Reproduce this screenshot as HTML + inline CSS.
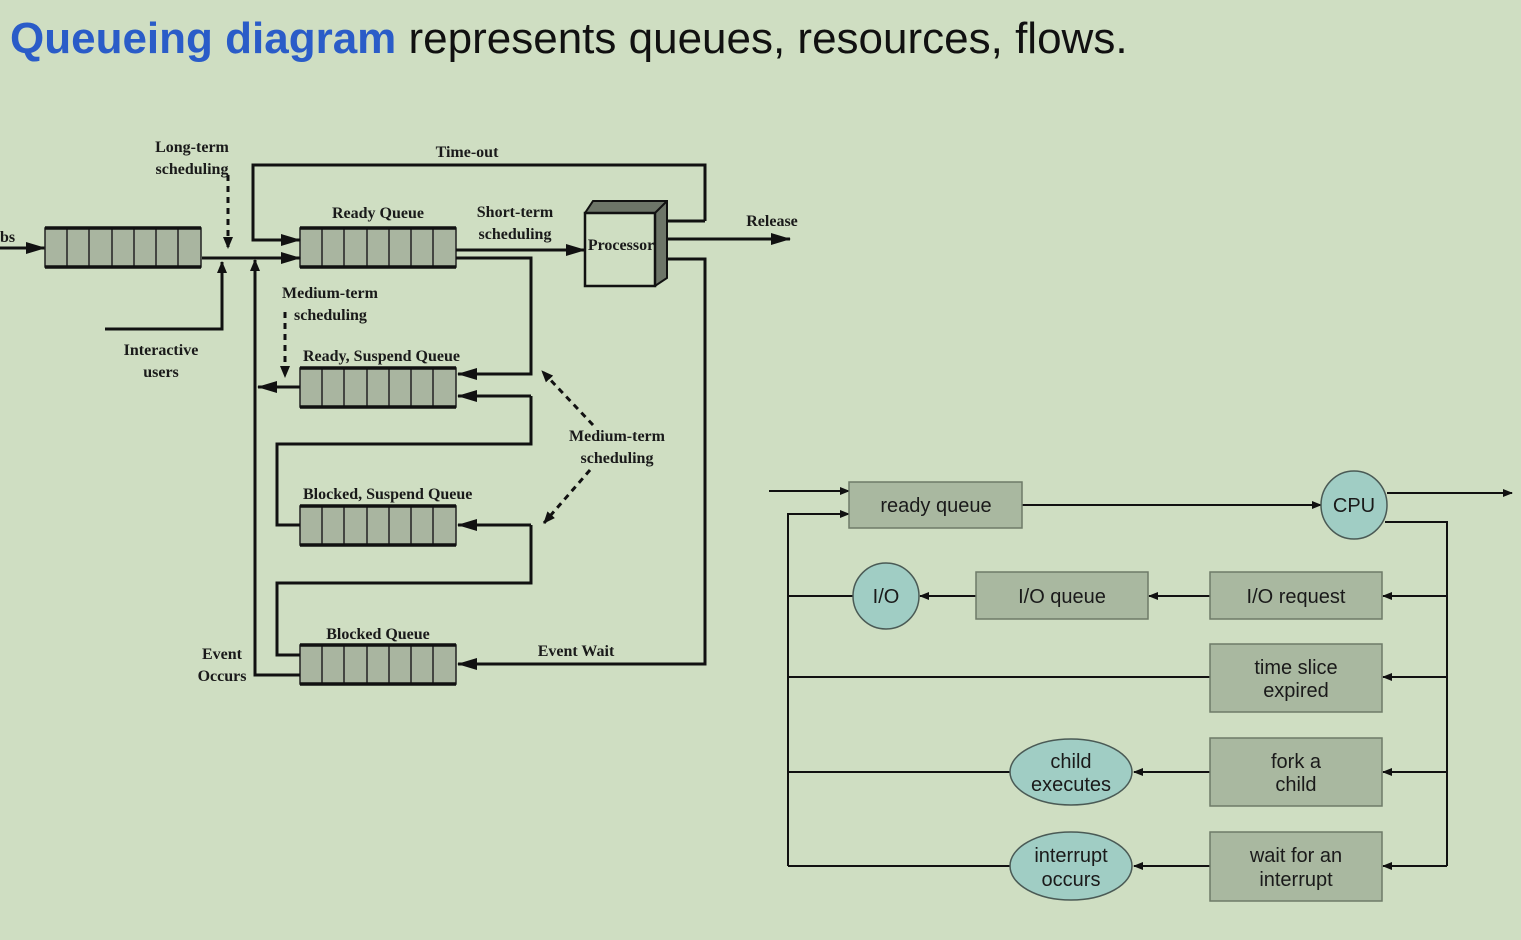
<!DOCTYPE html>
<html><head><meta charset="utf-8"><style>
html,body{margin:0;padding:0;background:#cfdec2;width:1521px;height:940px;overflow:hidden}
svg{position:absolute;left:0;top:0}
.s{font-family:"Liberation Serif",serif;font-weight:bold;font-size:16px;fill:#1a1a1a}
.r{font-family:"Liberation Sans",sans-serif;font-size:20px;fill:#1a1a1a}
</style></head><body>
<svg width="1521" height="940" viewBox="0 0 1521 940">
<defs>
<marker id="a" markerWidth="10" markerHeight="10" refX="9" refY="5" orient="auto" markerUnits="userSpaceOnUse"><path d="M0,1 L10,5 L0,9 z" fill="#111"/></marker>
<marker id="b" markerWidth="20" markerHeight="14" refX="19" refY="7" orient="auto" markerUnits="userSpaceOnUse"><path d="M0,1 L20,7 L0,13 z" fill="#111"/></marker>
<marker id="c" markerWidth="12" markerHeight="12" refX="11" refY="6" orient="auto" markerUnits="userSpaceOnUse"><path d="M0,1 L12,6 L0,11 z" fill="#111"/></marker>
<g id="q">
<rect x="0" y="0" width="156" height="39" fill="#a9b5a0" stroke="#222" stroke-width="1.5"/>
<path d="M22,0V39M44,0V39M67,0V39M89,0V39M111,0V39M133,0V39" stroke="#222" stroke-width="1.5"/>
<path d="M0,0H156M0,39H156" stroke="#111" stroke-width="3.5"/>
</g>
</defs>
<text x="10" y="53" font-family="Liberation Sans,sans-serif" font-size="44" fill="#111"><tspan fill="#2a5cc8" font-weight="bold">Queueing diagram</tspan> represents queues, resources, flows.</text>

<!-- left diagram -->
<g stroke="#111" stroke-width="3" fill="none">
<use href="#q" x="300" y="228"/>
<use href="#q" x="300" y="368"/>
<use href="#q" x="300" y="506"/>
<use href="#q" x="300" y="645"/>
<path d="M0,248H45" marker-end="url(#b)"/>
<path d="M202,258H300" marker-end="url(#b)"/>
<path d="M705,221H655M705,221V165H253V240H300" marker-end="url(#b)"/>
<path d="M228,175V248" stroke-dasharray="6,5" marker-end="url(#c)"/>
<path d="M105,329H222V262" marker-end="url(#c)"/>
<path d="M300,675H255V260" marker-end="url(#c)"/>
<path d="M300,387H258" marker-end="url(#b)"/>
<path d="M285,312V377" stroke-dasharray="6,5" marker-end="url(#c)"/>
<path d="M456,250H585" marker-end="url(#b)"/>
<path d="M456,258H531V374H458" marker-end="url(#b)"/>
<path d="M531,396H458"  marker-end="url(#b)"/>
<path d="M531,396V444H277V525H300"/>
<path d="M531,525H458" marker-end="url(#b)"/>
<path d="M531,525V583H277V655H300"/>
<path d="M655,259H705V664H458" marker-end="url(#b)"/>
<path d="M655,239H790" marker-end="url(#b)"/>
<path d="M593,425L542,371" stroke-dasharray="6,5" marker-end="url(#c)"/>
<path d="M590,470L544,523" stroke-dasharray="6,5" marker-end="url(#c)"/>
</g>
<use href="#q" x="45" y="228"/>
<!-- processor -->
<path d="M585,213 L593,201 L667,201 L667,278 L655,286 Z" fill="#6d7568" stroke="#111" stroke-width="2"/>
<rect x="585" y="213" width="70" height="73" fill="#cfdec2" stroke="#111" stroke-width="2.5"/>
<path d="M655,213L667,201" stroke="#111" stroke-width="2"/>
<text class="s" x="621" y="250" text-anchor="middle" font-size="11">Processor</text>
<text class="s" x="0" y="242" font-size="15">bs</text>
<text class="s" x="192" y="152" text-anchor="middle">Long-term</text>
<text class="s" x="192" y="174" text-anchor="middle">scheduling</text>
<text class="s" x="467" y="157" text-anchor="middle">Time-out</text>
<text class="s" x="378" y="218" text-anchor="middle">Ready Queue</text>
<text class="s" x="515" y="217" text-anchor="middle">Short-term</text>
<text class="s" x="515" y="239" text-anchor="middle">scheduling</text>
<text class="s" x="772" y="226" text-anchor="middle">Release</text>
<text class="s" x="282" y="298">Medium-term</text>
<text class="s" x="294" y="320">scheduling</text>
<text class="s" x="161" y="355" text-anchor="middle">Interactive</text>
<text class="s" x="161" y="377" text-anchor="middle">users</text>
<text class="s" x="303" y="361">Ready, Suspend Queue</text>
<text class="s" x="617" y="441" text-anchor="middle">Medium-term</text>
<text class="s" x="617" y="463" text-anchor="middle">scheduling</text>
<text class="s" x="303" y="499">Blocked, Suspend Queue</text>
<text class="s" x="378" y="639" text-anchor="middle">Blocked Queue</text>
<text class="s" x="576" y="656" text-anchor="middle">Event Wait</text>
<text class="s" x="222" y="659" text-anchor="middle">Event</text>
<text class="s" x="222" y="681" text-anchor="middle">Occurs</text>

<!-- right diagram -->
<g stroke="#111" stroke-width="2" fill="none">
<path d="M769,491H849" marker-end="url(#a)"/>
<path d="M788,866V514H849" marker-end="url(#a)"/>
<path d="M1022,505H1321" marker-end="url(#a)"/>
<path d="M1387,493H1512" marker-end="url(#a)"/>
<path d="M1385,522H1447V866"/>
<path d="M1447,596H1383" marker-end="url(#a)"/>
<path d="M1447,677H1383" marker-end="url(#a)"/>
<path d="M1447,772H1383" marker-end="url(#a)"/>
<path d="M1447,866H1383" marker-end="url(#a)"/>
<path d="M1210,596H1149" marker-end="url(#a)"/>
<path d="M976,596H920" marker-end="url(#a)"/>
<path d="M853,596H788"/>
<path d="M1210,677H788"/>
<path d="M1210,772H1134" marker-end="url(#a)"/>
<path d="M1010,772H788"/>
<path d="M1210,866H1134" marker-end="url(#a)"/>
<path d="M1010,866H788"/>
</g>
<g fill="#a9b8a0" stroke="#6e7a68" stroke-width="1.5">
<rect x="849" y="482" width="173" height="46"/>
<rect x="1210" y="572" width="172" height="47"/>
<rect x="976" y="572" width="172" height="47"/>
<rect x="1210" y="644" width="172" height="68"/>
<rect x="1210" y="738" width="172" height="68"/>
<rect x="1210" y="832" width="172" height="69"/>
</g>
<g fill="#a0cdc4" stroke="#4a5a55" stroke-width="1.5">
<ellipse cx="1354" cy="505" rx="33" ry="34"/>
<ellipse cx="886" cy="596" rx="33" ry="33"/>
<ellipse cx="1071" cy="772" rx="61" ry="33"/>
<ellipse cx="1071" cy="866" rx="61" ry="34"/>
</g>
<g class="r" text-anchor="middle">
<text x="936" y="512">ready queue</text>
<text x="1354" y="512">CPU</text>
<text x="886" y="603">I/O</text>
<text x="1062" y="603">I/O queue</text>
<text x="1296" y="603">I/O request</text>
<text x="1296" y="674">time slice</text>
<text x="1296" y="697">expired</text>
<text x="1296" y="768">fork a</text>
<text x="1296" y="791">child</text>
<text x="1071" y="768">child</text>
<text x="1071" y="791">executes</text>
<text x="1296" y="862">wait for an</text>
<text x="1296" y="886">interrupt</text>
<text x="1071" y="862">interrupt</text>
<text x="1071" y="886">occurs</text>
</g>
</svg>
</body></html>
